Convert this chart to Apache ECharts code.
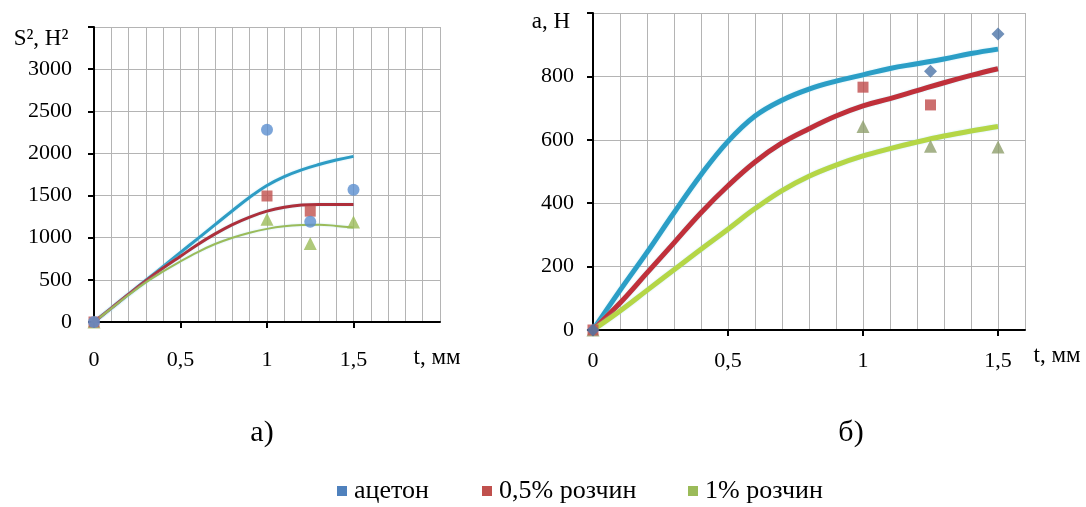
<!DOCTYPE html>
<html>
<head>
<meta charset="utf-8">
<script src="https://cdn.jsdelivr.net/npm/echarts@6.0.0/dist/echarts.min.js"></script>
<style>
  html, body { margin: 0; padding: 0; background: #fff; }
  #chart { width: 1086px; height: 507px; }
</style>
</head>
<body>
<div id="chart"></div>
<script>
const FONT = 'Liberation Serif';

// t, мм -- points along the trend curves
const tCurve = [0, 0.1, 0.2, 0.3, 0.4, 0.5, 0.6, 0.7, 0.8, 0.9, 1.0, 1.1, 1.2, 1.3, 1.4, 1.5];
// measured points
const tPoints = [0, 1, 1.25, 1.5];

// а) S², Н² -- trend curves
const sAcetone = [0, 165, 330, 495, 660, 825, 990, 1155, 1320, 1480, 1620, 1725, 1805, 1868, 1922, 1965];
const sSol05   = [0, 165, 330, 490, 640, 780, 920, 1045, 1155, 1245, 1315, 1362, 1388, 1395, 1395, 1395];
const sSol1    = [0, 160, 320, 470, 600, 720, 830, 925, 1000, 1060, 1105, 1135, 1150, 1155, 1140, 1120];
// а) measured
const sAcetonePts = [0, 2280, 1190, 1570];
const sSol05Pts   = [0, 1495, 1315, null];
const sSol1Pts    = [0, 1220, 930, 1185];

// б) а, Н -- trend curves
const aAcetone = [0, 125, 245, 370, 490, 595, 675, 725, 760, 785, 805, 825, 840, 855, 872, 886];
const aSol05   = [0, 85, 180, 275, 370, 455, 530, 590, 635, 675, 707, 730, 755, 780, 803, 824];
const aSol1    = [0, 60, 125, 190, 255, 318, 383, 440, 485, 520, 549, 572, 593, 612, 628, 642];
// б) measured
const aAcetonePts = [0, null, 816, 934];
const aSol05Pts   = [0, 766, 710, null];
const aSol1Pts    = [0, 642, 580, 577];

const legendNames = ['ацетон', '0,5% розчин', '1% розчин'];
const legendColors = ['#4f81bd', '#c0504d', '#9bbb59'];
const legendX = [337, 482, 688];
const xTickValues = [0, 0.5, 1, 1.5];

function pairs(xs, ys) {
  const out = [];
  for (let i = 0; i < xs.length; i++) {
    if (ys[i] !== null) out.push([xs[i], ys[i]]);
  }
  return out;
}

// visible x axis: ticks and labels every 0,5
function xAxisOpt(idx, max, margin) {
  return {
    type: 'value', gridIndex: idx, min: 0, max: max, interval: 0.5,
    axisLine: { onZero: false, lineStyle: { color: '#000', width: 2 } },
    axisTick: { show: true, length: 6, customValues: xTickValues, lineStyle: { color: '#000', width: 2 } },
    axisLabel: {
      customValues: xTickValues, margin: margin, color: '#000', fontFamily: FONT, fontSize: 22,
      formatter: v => String(v).replace('.', ',')
    },
    splitLine: { show: false }
  };
}

// hidden x axis that only draws the 0,1 grid
function xGridOpt(idx, max) {
  return {
    type: 'value', gridIndex: idx, min: 0, max: max, interval: 0.1,
    axisLine: { show: false }, axisTick: { show: false }, axisLabel: { show: false },
    splitLine: { show: true, lineStyle: { color: '#b4b4b4', width: 1 } }
  };
}

function yAxisOpt(idx, max, interval, margin) {
  return {
    type: 'value', gridIndex: idx, min: 0, max: max, interval: interval,
    axisLine: { show: true, onZero: false, lineStyle: { color: '#000', width: 2 } },
    axisTick: { show: true, length: 6, lineStyle: { color: '#000', width: 2 } },
    axisLabel: {
      margin: margin, color: '#000', fontFamily: FONT, fontSize: 22,
      formatter: v => (v >= max ? '' : String(v))
    },
    splitLine: { show: true, lineStyle: { color: '#b4b4b4', width: 1 } }
  };
}

function curve(name, idx, ys, color, width) {
  return {
    name: name, type: 'line', xAxisIndex: idx, yAxisIndex: idx,
    data: pairs(tCurve, ys), smooth: 0.4, showSymbol: false, z: 2,
    lineStyle: { color: color, width: width, shadowColor: 'rgba(150,220,240,0.6)', shadowBlur: 2 }
  };
}

function points(name, idx, ys, symbol, color, size) {
  return {
    name: name, type: 'scatter', xAxisIndex: idx, yAxisIndex: idx,
    data: pairs(tPoints, ys), symbol: symbol, symbolSize: size, z: 3,
    itemStyle: { color: color }
  };
}

function label(text, x, y, size, align) {
  return {
    type: 'text', x: x, y: y,
    style: { text: text, fill: '#000', font: size + 'px "' + FONT + '"', align: align || 'center', verticalAlign: 'middle' }
  };
}

// legend drawn as plain graphics so that it keeps the serif face
const legendGraphics = [];
legendNames.forEach((n, i) => {
  legendGraphics.push({
    type: 'rect', shape: { x: legendX[i], y: 486, width: 10, height: 10 },
    style: { fill: legendColors[i] }
  });
  legendGraphics.push(label(n, legendX[i] + 17, 491, 26, 'left'));
});

const chart = echarts.init(document.getElementById('chart'));
chart.setOption({
  animation: false,
  backgroundColor: '#fff',
  textStyle: { fontFamily: FONT },
  grid: [
    { left: 94, top: 27, width: 346, height: 295 },
    { left: 593, top: 13, width: 432, height: 317 }
  ],
  xAxis: [xAxisOpt(0, 2, 27), xAxisOpt(1, 1.6, 20), xGridOpt(0, 2), xGridOpt(1, 1.6)],
  yAxis: [yAxisOpt(0, 3500, 500, 22), yAxisOpt(1, 1000, 200, 19)],
  graphic: [
    label('S², Н²', 41, 39, 23),
    label('t, мм', 437, 358, 23),
    label('а, Н', 551, 22, 23),
    label('t, мм', 1057, 356, 23),
    label('а)', 262, 433, 30),
    label('б)', 851, 433, 30)
  ].concat(legendGraphics),
  series: [
    curve('ацетон, тренд а', 0, sAcetone, '#2e9cc4', 3),
    curve('0,5% розчин, тренд а', 0, sSol05, '#ad2f3b', 3),
    curve('1% розчин, тренд а', 0, sSol1, '#9bbb59', 2),
    points('1% розчин', 0, sSol1Pts, 'triangle', '#9bbb59', 13),
    points('0,5% розчин', 0, sSol05Pts, 'rect', '#c0504d', 11),
    points('ацетон', 0, sAcetonePts, 'circle', '#5b8fd0', 12),

    curve('ацетон, тренд б', 1, aAcetone, '#2b9ec6', 5),
    curve('0,5% розчин, тренд б', 1, aSol05, '#c0303a', 5),
    curve('1% розчин, тренд б', 1, aSol1, '#b5d646', 5),
    points('1% розчин', 1, aSol1Pts, 'triangle', '#8e9f6c', 13),
    points('0,5% розчин', 1, aSol05Pts, 'rect', '#bf4b4b', 11),
    points('ацетон', 1, aAcetonePts, 'diamond', '#4c74a8', 13)
  ]
});
</script>
</body>
</html>
